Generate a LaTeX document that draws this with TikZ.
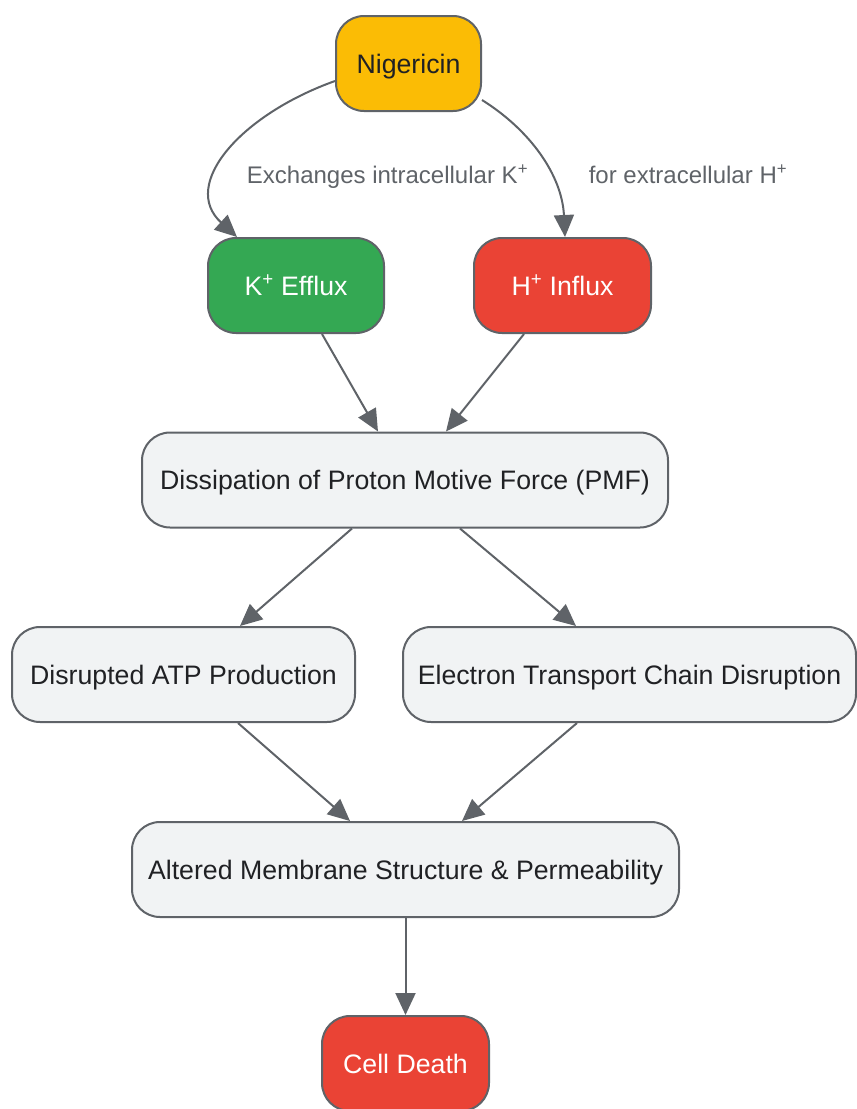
\documentclass[tikz,border=0pt]{standalone}
\usepackage{fontspec}
\setmainfont{Liberation Sans}
\usetikzlibrary{arrows.meta}
\definecolor{edgegray}{HTML}{5F6368}
\definecolor{lightfill}{HTML}{F1F3F4}
\definecolor{gyellow}{HTML}{FBBC05}
\definecolor{ggreen}{HTML}{34A853}
\definecolor{gred}{HTML}{EA4335}
\definecolor{darktext}{HTML}{202124}
\tikzset{
  box/.style={draw=edgegray, line width=2pt, rounded corners=28pt, inner sep=0pt,
    minimum height=95pt, text height=19pt, text depth=0pt,
    font=\fontsize{26.7}{30}\selectfont, text=darktext, fill=lightfill},
  conn/.style={draw=edgegray, line width=2pt, -{Triangle[length=22pt,width=20pt]}},
  elabel/.style={font=\fontsize{24}{28}\selectfont, text=edgegray, inner sep=0pt,
    text height=17pt, text depth=0pt}
}
\begin{document}
\begin{tikzpicture}[x=1pt,y=-1pt]
\useasboundingbox (0,0) rectangle (857,1109);
\node[box, fill=gyellow, minimum width=145pt] (nig) at (408.5,63.5) {Nigericin};
\node[box, fill=ggreen, text=white, minimum width=176pt] (kplus) at (296,285.5) {K\textsuperscript{+} Efflux};
\node[box, fill=gred, text=white, minimum width=177pt] (hplus) at (562.5,285.5) {H\textsuperscript{+} Influx};
\node[box, minimum width=526pt] (diss) at (405,480) {Dissipation of Proton Motive Force (PMF)};
\node[box, minimum width=343pt] (atp) at (183.5,674.5) {Disrupted ATP Production};
\node[box, minimum width=453pt] (etc) at (629.5,674.5) {Electron Transport Chain Disruption};
\node[box, minimum width=547pt] (alt) at (405.5,869.5) {Altered Membrane Structure \& Permeability};
\node[box, fill=gred, text=white, minimum width=167pt] (death) at (405.5,1063.5) {Cell Death};

\node[elabel] (lab1) at (387.5,175) {Exchanges intracellular K\textsuperscript{+}};
\node[elabel] (lab2) at (688,175) {for extracellular H\textsuperscript{+}};

\draw[conn] ([yshift=-17.5pt]nig.west) .. controls (240,115) and (180,185) .. ([xshift=-59pt]kplus.north);
\draw[conn] ([yshift=-36.5pt]nig.east) .. controls (530,130) and (562,175) .. ([xshift=2.5pt]hplus.north);
\draw[conn] ([xshift=26pt]kplus.south) -- ([xshift=-27pt]diss.north);
\draw[conn] ([xshift=-38.5pt]hplus.south) -- ([xshift=41pt]diss.north);
\draw[conn] ([xshift=-53pt]diss.south) -- ([xshift=56.5pt]atp.north);
\draw[conn] ([xshift=55pt]diss.south) -- ([xshift=-53.5pt]etc.north);
\draw[conn] ([xshift=54.5pt]atp.south) -- ([xshift=-55.5pt]alt.north);
\draw[conn] ([xshift=-52.5pt]etc.south) -- ([xshift=56.5pt]alt.north);
\draw[conn] (alt.south) -- (death.north);
\end{tikzpicture}
\end{document}
